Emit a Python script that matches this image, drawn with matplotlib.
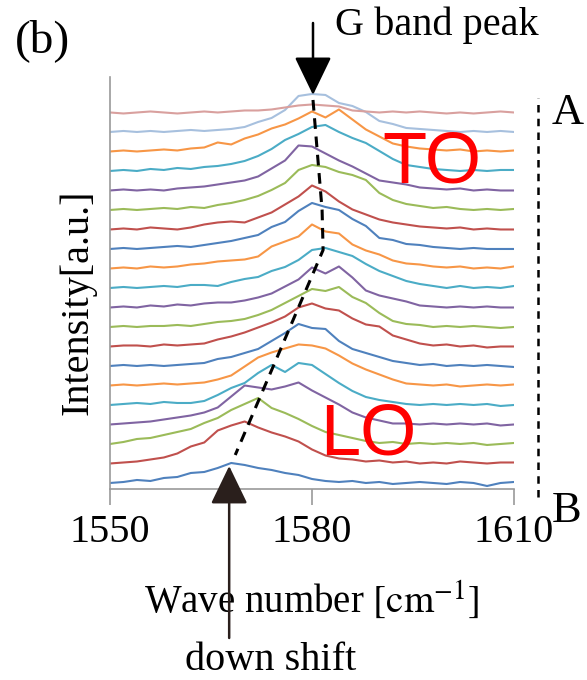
import numpy as np
import matplotlib.pyplot as plt

plt.rcParams['font.family'] = ['Liberation Serif', 'DejaVu Serif']
plt.rcParams['mathtext.fontset'] = 'stix'

# wave number grid [cm^-1]
wavenumber = [1550, 1552, 1554, 1556, 1558, 1560, 1562, 1564, 1566, 1568, 1570,
              1572, 1574, 1576, 1578, 1580, 1582, 1584, 1586, 1588, 1590,
              1592, 1594, 1596, 1598, 1600, 1602, 1604, 1606, 1608, 1610]

# spectra, bottom (B) to top (A), intensity in a.u.
sp00 = [0, 1, 3, 2, 5, 6, 10, 11, 15, 20, 18, 15, 13, 10, 8, 4, 2, 1, 2, 0, 1, -1, 0, 1, 0, -1, 1, 0, -3, 0, 1]
sp01 = [0, 1, 2, 4, 6, 10, 17, 21, 33, 38, 42, 36, 31, 27, 22, 14, 8, 5, 4, 2, 3, 1, 2, 0, 1, 0, 2, 1, 0, 1, 1]
sp02 = [0, 2, 5, 6, 9, 12, 15, 21, 26, 34, 40, 46, 36, 31, 25, 18, 12, 9, 6, 3, 1, 2, 0, 1, 0, 1, 0, 1, -1, 0, 1]
sp03 = [0, 1, 2, 3, 5, 7, 9, 12, 17, 28, 39, 37, 35, 38, 42, 34, 27, 20, 12, 7, 4, 1, 1, 0, 1, 0, 1, 0, 1, -1, 0]
sp04 = [0, 1, 2, 1, 3, 2, 2, 4, 10, 17, 22, 32, 40, 33, 42, 40, 31, 22, 14, 8, 5, 3, 1, 0, 1, 0, 1, 0, 1, -1, 0]
sp05 = [0, 1, 0, 1, 2, 1, 2, 3, 6, 10, 19, 28, 33, 37, 41, 40, 37, 30, 22, 16, 11, 6, 2, 1, 0, 1, -1, 0, 1, 0, 1]
sp06 = [0, 1, 0, 1, 0, 1, 2, 3, 7, 9, 13, 17, 25, 33, 42, 38, 37, 25, 17, 13, 9, 5, 3, 1, 2, 0, 1, 0, 1, 0, -1]
sp07 = [0, 1, 1, 0, 2, 1, 2, 3, 7, 10, 14, 19, 24, 30, 39, 43, 38, 36, 28, 22, 20, 11, 7, 3, 1, 2, 0, 1, -1, 0, 0]
sp08 = [0, 1, 0, 1, 1, 2, 1, 3, 5, 6, 8, 12, 17, 24, 31, 38, 36, 40, 30, 24, 14, 6, 3, 2, 0, 1, 0, 1, 0, -1, 0]
sp09 = [0, 1, 0, 2, 1, 3, 2, 4, 5, 5, 7, 10, 14, 21, 28, 40, 34, 41, 30, 17, 12, 9, 6, 2, 1, 0, 1, 0, 1, 0, 0]
sp10 = [0, 1, 0, 1, 2, 1, 3, 3, 2, 6, 9, 11, 17, 21, 28, 38, 40, 36, 32, 24, 17, 12, 7, 4, 2, 0, 2, 0, 1, 0, 2]
sp11 = [0, 1, 0, 2, 1, 2, 4, 5, 7, 8, 9, 12, 22, 27, 32, 44, 37, 35, 24, 18, 14, 8, 5, 4, 2, 1, 2, 0, 1, 0, 2]
sp12 = [0, 1, 0, 1, 2, 3, 2, 4, 6, 8, 11, 14, 22, 27, 38, 46, 42, 39, 30, 23, 11, 9, 5, 4, 2, 1, 0, 1, 0, 0, 0]
sp13 = [0, 1, 0, 2, 1, 0, 2, 5, 7, 8, 7, 12, 17, 25, 33, 44, 38, 28, 20, 15, 10, 7, 5, 3, 2, 1, 2, 0, 1, 0, 0]
sp14 = [0, 1, 0, 1, 2, 1, 3, 2, 5, 7, 10, 14, 20, 27, 40, 45, 43, 38, 35, 30, 17, 10, 6, 4, 2, 3, 1, 0, 1, 0, 1]
sp15 = [0, 1, 0, 1, 0, 2, 3, 4, 6, 8, 10, 14, 22, 30, 45, 44, 37, 30, 24, 17, 10, 8, 6, 3, 2, 1, 2, 0, 1, 0, 0]
sp16 = [0, 1, 0, 2, 1, 3, 2, 4, 5, 7, 10, 15, 22, 31, 37, 44, 46, 39, 33, 28, 20, 12, 6, 4, 2, 1, 0, 1, 0, 1, 1]
sp17 = [0, 1, 0, 1, 2, 1, 3, 4, 9, 7, 13, 17, 23, 27, 33, 40, 34, 42, 32, 22, 15, 8, 5, 3, 2, 1, 2, 0, 1, 0, 1]
sp18 = [0, 1, 0, 1, 0, 1, 2, 1, 2, 3, 5, 10, 14, 22, 36, 38, 37, 29, 26, 20, 11, 8, 4, 3, 2, 1, 0, 1, 0, 1, 0]
sp19 = [0, -1, 0, 1, 0, -1, 0, 1, 0, 1, 2, 2, 3, 5, 7, 8, 7, 6, 2, 1, 0, 1, 0, 1, 0, -1, 0, -1, 0, 1, 0]
spectra = [sp00, sp01, sp02, sp03, sp04, sp05, sp06, sp07, sp08, sp09,
           sp10, sp11, sp12, sp13, sp14, sp15, sp16, sp17, sp18, sp19]
step = 19.5  # vertical offset between spectra

# dashed line following the G band peak (wave number, stacked intensity)
track_w = [1580.15, 1581.5, 1581.65, 1568.6]
track_y = [383, 273, 233, 28]

blue, red, green, purple, aqua, orange = '#4F81BD', '#C0504D', '#9BBB59', '#8064A2', '#4BACC6', '#F79646'
colors = [blue, red, green, purple, aqua, orange] * 3 + ['#A7C0DE', '#D9A09E']

fig = plt.figure(figsize=(5.87, 6.8), dpi=100)
ax = fig.add_axes([0.1874, 0.2809, 0.6882, 0.6059])

for i, s in enumerate(spectra):
    ax.plot(wavenumber, np.array(s) + i * step, color=colors[i], lw=1.5)

ax.plot(track_w, track_y, color='k', lw=2.2, ls=(0, (3.5, 2.5)))

ax.set_xlim(1550, 1610)
ax.set_ylim(-6, 406)
ax.set_xticks([1550, 1580, 1610])
ax.set_yticks([])
for side in ['top', 'right']:
    ax.spines[side].set_visible(False)
for side in ['left', 'bottom']:
    ax.spines[side].set_color('#9a9a9a')
    ax.spines[side].set_linewidth(1.2)
ax.tick_params(axis='x', direction='out', length=11.5, width=1.2, color='#9a9a9a',
               labelsize=29, pad=6.5)

ax.set_xlabel(r'Wave number $[\mathrm{cm}^{-1}]$', fontsize=28)
ax.xaxis.set_label_coords(0.5, -0.2985)
ax.xaxis.label.set_va('baseline')
ax.set_ylabel('Intensity[a.u.]', fontsize=29)
ax.yaxis.set_label_coords(-0.079, 0.454)
ax.yaxis.label.set_va('center')

# TO / LO labels
ax.text(1597.8, 483 - 183, 'TO', color='red', fontsize=52, family='Liberation Sans',
        ha='center', va='baseline')
ax.text(1588.3, 483 - 455, 'LO', color='red', fontsize=52, family='Liberation Sans',
        ha='center', va='baseline')

# arrows
ax.annotate('', xy=(1580.15, 388), xytext=(1580.15, 460), annotation_clip=False,
            arrowprops=dict(arrowstyle='-|>,head_length=1.2,head_width=0.58', lw=1.8,
                            color='k', shrinkA=0, shrinkB=0, mutation_scale=20))
ax.annotate('', xy=(1567.7, 17), xytext=(1567.7, -155), annotation_clip=False,
            arrowprops=dict(arrowstyle='-|>,head_length=1.2,head_width=0.58', lw=1.8,
                            color='#2a1f1c', shrinkA=0, shrinkB=0, mutation_scale=20))

# A - B dashed marker on the right
ax.plot([1613.57, 1613.57], [-14, 385], color='k', lw=1.8, ls=(0, (3, 2.5)), clip_on=False)

fig.text(15 / 587, 1 - 52 / 680, '(b)', fontsize=34, ha='left', va='baseline')
fig.text(335 / 587, 1 - 35 / 680, 'G band peak', fontsize=29, ha='left', va='baseline')
fig.text(271 / 587, 1 - 670 / 680, 'down shift', fontsize=29, ha='center', va='baseline')
fig.text(552 / 587, 1 - 124 / 680, 'A', fontsize=32, ha='left', va='baseline')
fig.text(552 / 587, 1 - 522 / 680, 'B', fontsize=32, ha='left', va='baseline')

fig.savefig('out.png', dpi=100)
